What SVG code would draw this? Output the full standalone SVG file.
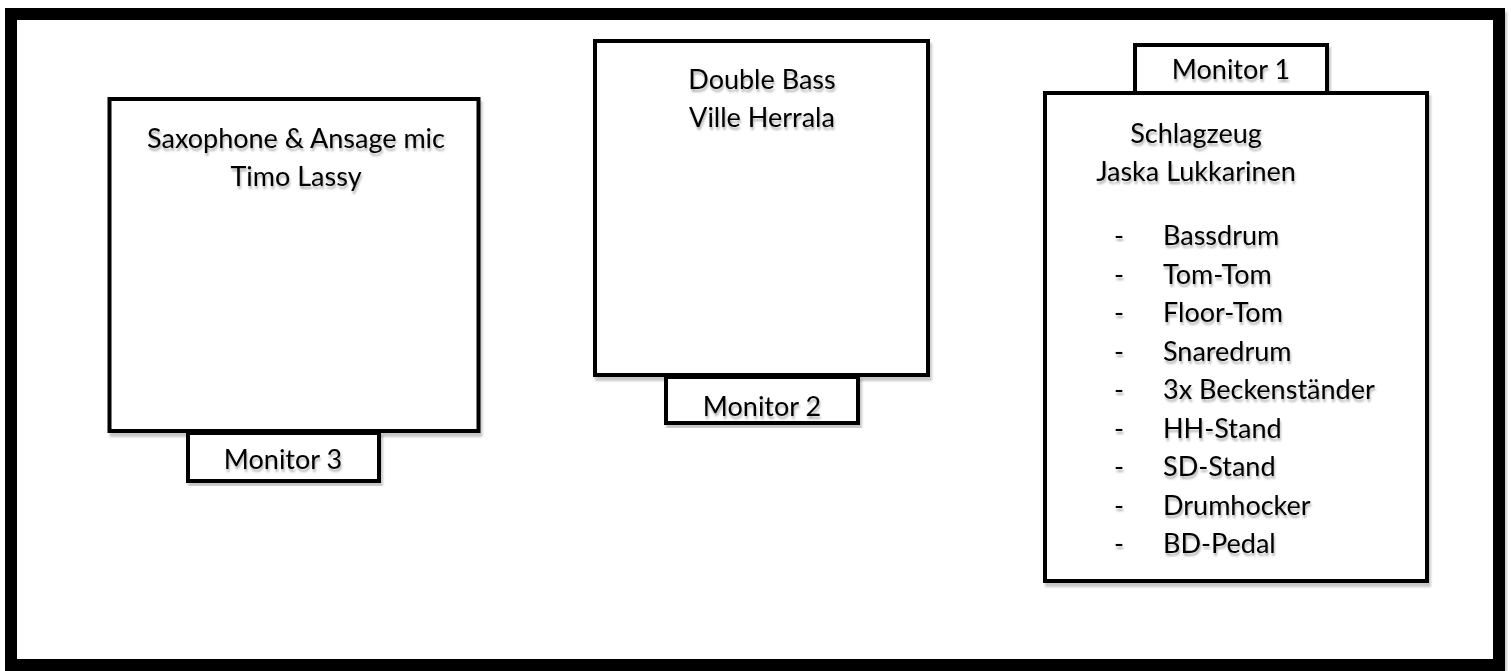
<svg xmlns="http://www.w3.org/2000/svg" width="1511" height="671" viewBox="0 0 1511 671">
  <defs>
    <filter id="sh" x="-5%" y="-5%" width="110%" height="115%">
      <feDropShadow dx="2" dy="4" stdDeviation="1" flood-color="#000" flood-opacity="0.22"/>
    </filter>
    <filter id="tsh" x="-5%" y="-20%" width="110%" height="160%">
      <feDropShadow dx="1" dy="3" stdDeviation="0.8" flood-color="#000" flood-opacity="0.3"/>
    </filter>
  </defs>
  <style>
    .box { fill: #fff; stroke: #000; stroke-width: 4; }
    .frame { fill: #fff; stroke: #000; stroke-width: 12; }
    text { font-family: Lato, "Open Sans", sans-serif; font-size: 27px; fill: #000; }
    .c { text-anchor: middle; }
  </style>
  <rect width="1511" height="671" fill="#fff"/>
  <g id="stage">
    <rect class="frame" x="11" y="14" width="1488" height="651" filter="url(#sh)"/>
  </g>
  <g id="connectors"/>
  <g id="saxophone">
    <rect class="box" x="109.5" y="99" width="369" height="332" filter="url(#sh)"/>
    <g filter="url(#tsh)">
      <text class="c" x="296" y="148">Saxophone &amp; Ansage mic</text>
      <text class="c" x="296" y="186">Timo Lassy</text>
    </g>
  </g>
  <g id="monitor3">
    <rect class="box" x="188" y="433" width="191" height="48" filter="url(#sh)"/>
    <text class="c" x="283" y="469" filter="url(#tsh)">Monitor 3</text>
  </g>
  <g id="doublebass">
    <rect class="box" x="595" y="41" width="333" height="334" filter="url(#sh)"/>
    <g filter="url(#tsh)">
      <text class="c" x="762" y="89">Double Bass</text>
      <text class="c" x="762" y="127">Ville Herrala</text>
    </g>
  </g>
  <g id="monitor2">
    <rect class="box" x="666" y="377" width="192" height="46" filter="url(#sh)"/>
    <text class="c" x="762" y="416" filter="url(#tsh)">Monitor 2</text>
  </g>
  <g id="monitor1">
    <rect class="box" x="1135" y="45" width="192" height="48" filter="url(#sh)"/>
    <text class="c" x="1231" y="79" filter="url(#tsh)">Monitor 1</text>
  </g>
  <g id="drums">
    <rect class="box" x="1045" y="93" width="382" height="488" filter="url(#sh)"/>
    <g filter="url(#tsh)">
      <text class="c" x="1196" y="143">Schlagzeug</text>
      <text class="c" x="1196" y="181">Jaska Lukkarinen</text>
      <g>
        <text x="1114" y="245">-</text><text x="1163" y="245">Bassdrum</text>
        <text x="1114" y="283.5">-</text><text x="1163" y="283.5">Tom-Tom</text>
        <text x="1114" y="322">-</text><text x="1163" y="322">Floor-Tom</text>
        <text x="1114" y="360.5">-</text><text x="1163" y="360.5">Snaredrum</text>
        <text x="1114" y="399">-</text><text x="1163" y="399">3x Beckenständer</text>
        <text x="1114" y="437.5">-</text><text x="1163" y="437.5">HH-Stand</text>
        <text x="1114" y="476">-</text><text x="1163" y="476">SD-Stand</text>
        <text x="1114" y="514.5">-</text><text x="1163" y="514.5">Drumhocker</text>
        <text x="1114" y="553">-</text><text x="1163" y="553">BD-Pedal</text>
      </g>
    </g>
  </g>
</svg>
